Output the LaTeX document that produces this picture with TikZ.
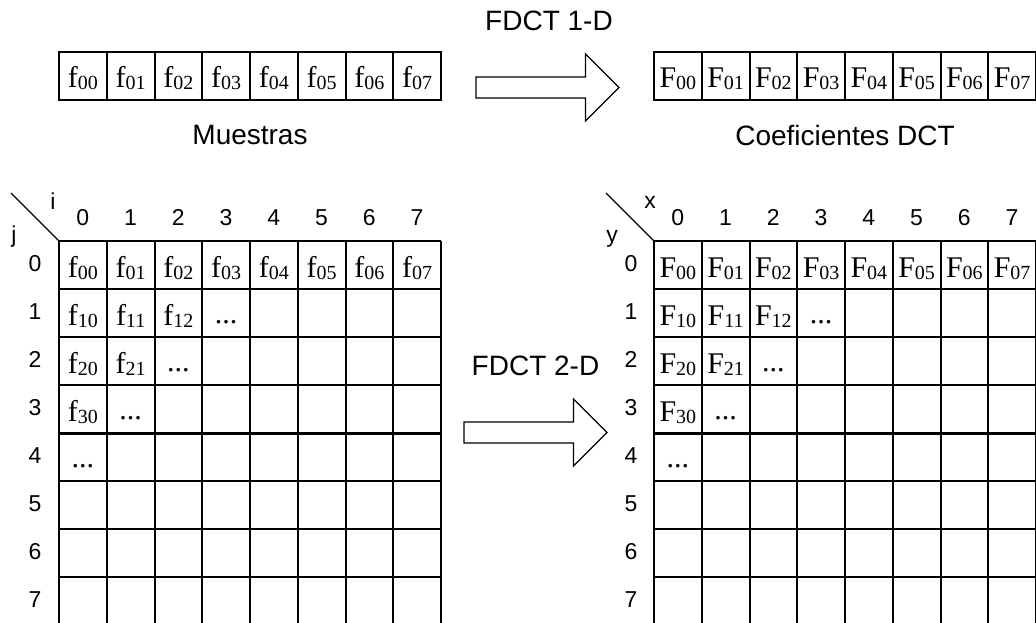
\documentclass[tikz,border=0pt]{standalone}
\usepackage{fontspec}
\setmainfont{Liberation Serif}
\setsansfont{Liberation Sans}
\usetikzlibrary{calc}

\tikzset{
  celltxt/.style={anchor=base, inner sep=0, font=\fontsize{30}{32}\selectfont},
  lbl/.style={anchor=base, inner sep=0, font=\sffamily\fontsize{23}{25}\selectfont},
  title/.style={anchor=base, inner sep=0, font=\sffamily\fontsize{28}{30}\selectfont},
  gridline/.style={black, line width=2pt},
  bigarrow/.style={black, line width=1.3pt, line join=miter, fill=white},
}
% letter with a slightly lowered index
\newcommand{\sm}[2]{#1\raisebox{-2pt}{\fontsize{20}{20}\selectfont #2}}
\def\cw{47.75}

\begin{document}
\begin{tikzpicture}[x=1pt,y=-1pt]
\useasboundingbox (0,0) rectangle (1036,623);

% 1-D rows: samples and coefficients
\foreach \ox/\lt in {59/f, 654/F} {
 \draw[gridline] (\ox,52) rectangle ++(8*\cw,48);
 \foreach \i in {1,...,7}
  \draw[gridline] (\ox+\i*\cw,52) --++(0,48);
 \foreach \i in {0,...,7}
  \node[celltxt] (r\lt\i) at (\ox+\i*\cw+\cw/2,88) {\sm{\lt}{0\i}};
}
\node[title] (t1) at (549,31) {FDCT 1-D};
\node[title] (muestras) at (250,145) {Muestras};
\node[title] (coef) at (845,146) {Coeficientes DCT};

% 8x8 blocks
\foreach \ox/\lt/\lx in {59/f/35, 654/F/631} {
 \foreach \i in {0,...,8}
  \draw[gridline] (\ox+\i*\cw,241) --++(0,384);
 \foreach \j in {0,...,7}
  \draw[gridline] (\ox,241+\j*48) --++(8*\cw,0);
 \draw[black, line width=3pt] (\ox,433) --++(8*\cw,0);
 \foreach \i in {0,...,7} {
  \node[lbl] (c\lt\i) at (\ox+\i*\cw+\cw/2,225) {\i};
  \node[lbl] (l\lt\i) at (\lx,271+\i*48) {\i};
  \node[celltxt] (g\lt0\i) at (\ox+\i*\cw+\cw/2,277) {\sm{\lt}{0\i}};
 }
 \foreach \j/\i/\t in {1/0/10, 1/1/11, 1/2/12, 2/0/20, 2/1/21, 3/0/30}
  \node[celltxt] (g\lt\t) at (\ox+\i*\cw+\cw/2,241+\j*48+36) {\sm{\lt}{\t}};
 \foreach \j/\i in {1/3, 2/2, 3/1, 4/0}
  \node[celltxt] (d\lt\j) at (\ox+\i*\cw+\cw/2,241+\j*48+34) {...};
 \draw[line width=1.3pt] (\ox-48,193) -- (\ox,241);
}
\node[lbl] (lbli) at (53,209) {i};
\node[lbl] (lblj) at (14,242) {j};
\node[lbl] (lblx) at (650,208) {x};
\node[lbl] (lbly) at (612,242) {y};

% block arrows
\foreach \ax/\ay in {476/87.5, 464/432.5}
 \draw[bigarrow] (\ax,\ay-10.5) --++(109.5,0) --++(0,-23) --++(33.5,33.5)
   --++(-33.5,33.5) --++(0,-23) --++(-109.5,0) -- cycle;
\node[title] (t2) at (535.5,375) {FDCT 2-D};
\end{tikzpicture}
\end{document}
